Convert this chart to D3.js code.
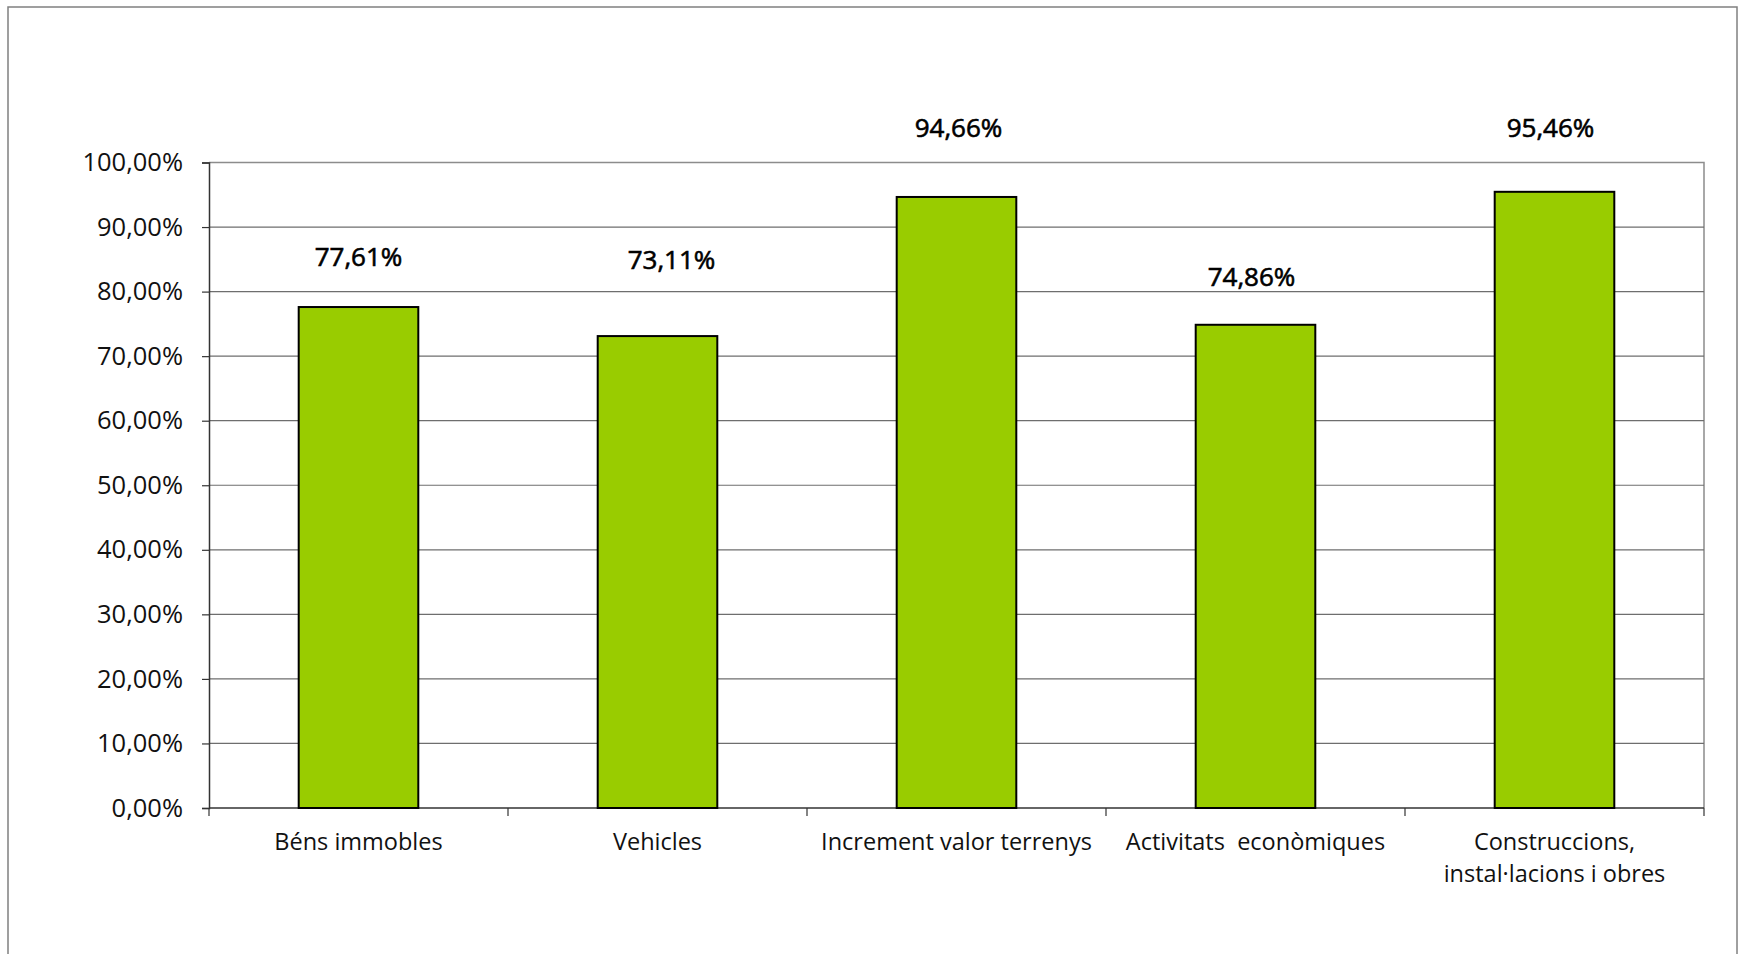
<!DOCTYPE html>
<html><head><meta charset="utf-8">
<script src="https://cdn.jsdelivr.net/npm/d3@7"></script>
<style>
html,body{margin:0;padding:0;background:#fff;}
svg{display:block;font-family:"Open Sans",sans-serif;}
text{white-space:pre;}
</style></head>
<body>
<svg id="chart" width="1741" height="954"></svg>
<script>
// ---- data ----
const categories = [
  ["Béns immobles"],
  ["Vehicles"],
  ["Increment valor terrenys"],
  ["Activitats  econòmiques"],
  ["Construccions,", "instal·lacions i obres"]
];
const values = [77.61, 73.11, 94.66, 74.86, 95.46];
const valueLabels = ["77,61%", "73,11%", "94,66%", "74,86%", "95,46%"];
// where each value label sits (in axis units), as placed in the original
const labelLevel = [85.4, 84.9, 105.35, 82.3, 105.35];
const labelShift = [0, 14, 2, -4, -4];
const yTicks = [0, 10, 20, 30, 40, 50, 60, 70, 80, 90, 100];
const yTickLabels = ["0,00%", "10,00%", "20,00%", "30,00%", "40,00%", "50,00%", "60,00%", "70,00%", "80,00%", "90,00%", "100,00%"];

// ---- layout ----
const svg = d3.select("#chart");
const L = 209, R = 1704, T = 162.5, B = 808;

// outer frame
svg.append("rect").attr("x", 8).attr("y", 7).attr("width", 1729).attr("height", 960)
  .attr("fill", "none").attr("stroke", "#808080").attr("stroke-width", 1.5);

const x = d3.scaleBand().domain(d3.range(categories.length)).range([L, R])
  .paddingInner(0.6).paddingOuter(0.3);
const xb = d3.scaleBand().domain(d3.range(categories.length)).range([L, R]);
const y = d3.scaleLinear().domain([0, 100]).range([B, T]);

// plot area border (top & right)
svg.append("path").attr("d", `M${L},${T}H${R}V${B}`).attr("fill", "none")
  .attr("stroke", "#8c8c8c").attr("stroke-width", 1.5);

// gridlines
svg.append("g").selectAll("line").data(yTicks.filter(t => t > 0 && t < 100)).join("line")
  .attr("x1", L).attr("x2", R).attr("y1", d => y(d)).attr("y2", d => y(d))
  .attr("stroke", "#6e6e6e").attr("stroke-width", 1.2);

// y axis
const yAxis = d3.axisLeft(y).tickValues(yTicks).tickSize(7).tickPadding(19)
  .tickFormat((d, i) => yTickLabels[i]);
const gy = svg.append("g").attr("transform", `translate(${L},0)`).call(yAxis);
gy.select(".domain").attr("stroke", "#333").attr("stroke-width", 1.5);
gy.selectAll(".tick line").attr("stroke", "#333").attr("stroke-width", 1.2);
gy.selectAll(".tick text").attr("font-size", 25.5).attr("fill", "#111")
  .attr("font-family", "'Open Sans',sans-serif");

// x axis
const gx = svg.append("g").attr("transform", `translate(0,${B})`);
gx.append("line").attr("x1", L).attr("x2", R).attr("stroke", "#333").attr("stroke-width", 1.5);
gx.selectAll("line.t").data(d3.range(categories.length + 1)).join("line").attr("class", "t")
  .attr("x1", d => L + d * xb.step()).attr("x2", d => L + d * xb.step())
  .attr("y1", 0).attr("y2", 8).attr("stroke", "#333").attr("stroke-width", 1.2);

// bars
svg.append("g").selectAll("rect").data(values).join("rect")
  .attr("x", (d, i) => x(i)).attr("width", x.bandwidth())
  .attr("y", d => y(d)).attr("height", d => B - y(d))
  .attr("fill", "#99cc00").attr("stroke", "#000").attr("stroke-width", 2);

// category labels
const cl = svg.append("g").attr("font-size", 23.5).attr("fill", "#111").attr("text-anchor", "middle");
categories.forEach((lines, i) => {
  const t = cl.append("text").attr("x", xb(i) + xb.bandwidth() / 2).attr("y", B + 42);
  lines.forEach((ln, j) => t.append("tspan").attr("x", xb(i) + xb.bandwidth() / 2)
    .attr("dy", j === 0 ? 0 : 32).text(ln));
});

// value labels
svg.append("g").selectAll("text").data(values).join("text")
  .attr("x", (d, i) => x(i) + x.bandwidth() / 2 + labelShift[i])
  .attr("y", (d, i) => y(labelLevel[i])).attr("dy", "0.36em")
  .attr("text-anchor", "middle").attr("font-size", 26)
  .attr("fill", "#000").attr("stroke", "#000").attr("stroke-width", 0.6)
  .text((d, i) => valueLabels[i]);
</script>
</body></html>
